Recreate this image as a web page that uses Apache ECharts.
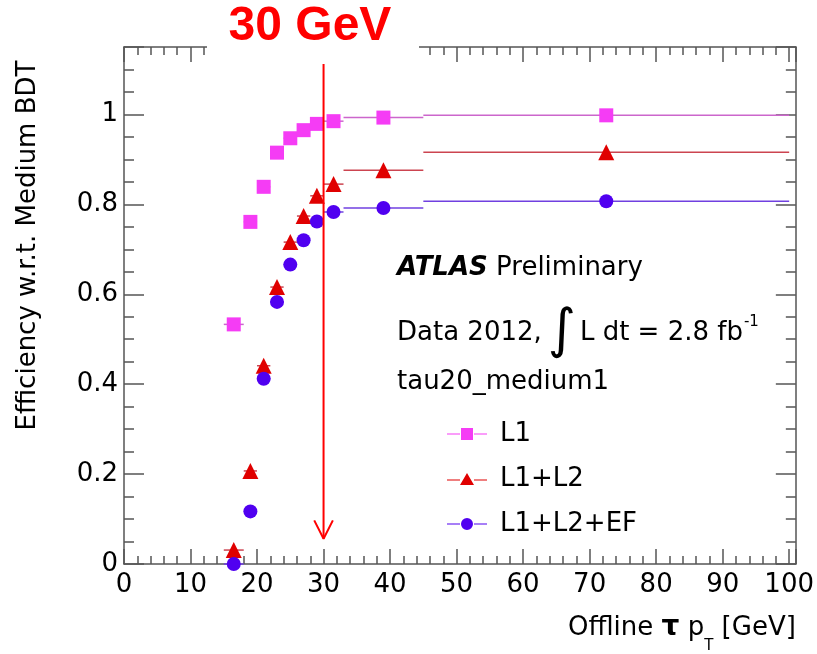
<!DOCTYPE html>
<html>
<head>
<meta charset="utf-8">
<script src="https://cdn.jsdelivr.net/npm/echarts@6/dist/echarts.min.js"></script>
<style>
  html, body { margin: 0; padding: 0; background: #fff; }
  #main { width: 817px; height: 654px; }
</style>
</head>
<body>
<div id="main"></div>
<script>
// offline tau pT bins [GeV]
var binLo = [15, 18, 20, 22, 24, 26, 28, 30, 33, 45];
var binHi = [18, 20, 22, 24, 26, 28, 30, 33, 45, 100];
var binMid = [16.5, 19, 21, 23, 25, 27, 29, 31.5, 39, 72.5];

// efficiency w.r.t. medium BDT
var effL1 = [0.533, 0.761, 0.839, 0.915, 0.947, 0.965, 0.979, 0.985, 0.993, 0.998];
var effL1L2 = [0.031, 0.207, 0.441, 0.616, 0.716, 0.774, 0.819, 0.845, 0.876, 0.916];
var effEF = [0.0, 0.117, 0.412, 0.583, 0.666, 0.720, 0.762, 0.783, 0.792, 0.807];

// 30 GeV arrow
var arrowLine = [[30, 1.113], [30, 0.056]];
var arrowHead = [[28.6, 0.097], [30, 0.056], [31.4, 0.097]];

var font = "DejaVu Sans";
var axisColor = "#555";

var myChart = echarts.init(document.getElementById("main"));

function errBars(vals, color) {
  return {
    type: "custom",
    silent: true,
    z: 2,
    data: binLo.map(function (lo, i) { return [lo, binHi[i], vals[i]]; }),
    encode: { x: [0, 1], y: 2 },
    renderItem: function (params, api) {
      var p1 = api.coord([api.value(0), api.value(2)]);
      var p2 = api.coord([api.value(1), api.value(2)]);
      return {
        type: "line",
        shape: { x1: p1[0], y1: p1[1], x2: p2[0], y2: p2[1] },
        style: { stroke: color, lineWidth: 1.5 }
      };
    }
  };
}

function markers(name, vals, symbol, size, color) {
  return {
    name: name,
    type: "scatter",
    z: 3,
    symbol: symbol,
    symbolSize: size,
    itemStyle: { color: color, opacity: 1 },
    data: binMid.map(function (x, i) { return [x, vals[i]]; })
  };
}

// x axes: bottom/top, major (10) and minor (2) ticks
function xAx(pos, interval, len, labels, line) {
  return {
    type: "value", position: pos, min: 0, max: 101, interval: interval,
    axisLine: { show: line, onZero: false, lineStyle: { color: axisColor, width: 1.5 } },
    axisTick: { show: true, inside: true, length: len, lineStyle: { color: axisColor, width: 1.5 } },
    axisLabel: {
      show: labels, margin: 8, color: "#000", fontFamily: font, fontSize: 26,
      formatter: function (v) { return v % 10 === 0 ? String(v) : ""; }
    },
    splitLine: { show: false }
  };
}
function yAx(pos, interval, len, labels, line) {
  return {
    type: "value", position: pos, min: 0, max: 1.15, interval: interval,
    axisLine: { show: line, onZero: false, lineStyle: { color: axisColor, width: 1.5 } },
    axisTick: { show: true, inside: true, length: len, lineStyle: { color: axisColor, width: 1.5 } },
    axisLabel: {
      show: labels, margin: 6, color: "#000", fontFamily: font, fontSize: 26,
      formatter: function (v) { return v > 1.05 ? "" : String(Math.round(v * 10) / 10); }
    },
    splitLine: { show: false }
  };
}

var xAxes = [xAx("bottom", 10, 15, true, true), xAx("bottom", 2, 8, false, false),
             xAx("top", 10, 15, false, true), xAx("top", 2, 8, false, false)];
xAxes[0].name = "Offline {tau|τ} p{sub|T} [GeV]";
xAxes[0].nameLocation = "end";
xAxes[0].nameGap = 0;
xAxes[0].nameTextStyle = {
  fontFamily: font, fontSize: 26, color: "#000", align: "right", verticalAlign: "top",
  padding: [50, 0, 0, 0],
  rich: {
    tau: { fontFamily: font, fontSize: 28, fontWeight: "bold", color: "#000" },
    sub: { fontFamily: font, fontSize: 15, color: "#000", verticalAlign: "bottom", padding: [0, 0, -12, 0] }
  }
};

var yAxes = [yAx("left", 0.2, 20, true, true), yAx("left", 0.05, 10, false, false),
             yAx("right", 0.2, 20, false, true), yAx("right", 0.05, 10, false, false)];
yAxes[0].name = "Efficiency w.r.t. Medium BDT";
yAxes[0].nameLocation = "middle";
yAxes[0].nameRotate = 90;
yAxes[0].nameGap = 83;
yAxes[0].nameTextStyle = { fontFamily: font, fontSize: 26, color: "#000", padding: [0, 0, 0, 120] };

var option = {
  backgroundColor: "#fff",
  animation: false,
  grid: { left: 124, right: 20, top: 47, bottom: 87 },
  xAxis: xAxes,
  yAxis: yAxes,
  legend: {
    orient: "vertical",
    left: 442,
    top: 416,
    itemWidth: 40,
    itemHeight: 14,
    itemGap: 19,
    textStyle: { fontFamily: font, fontSize: 26, color: "#000", padding: [0, 0, 0, 8] },
    data: [
      { name: "L1", icon: "path://M0,6.4H13V7.6H0Z M27,6.4H40V7.6H27Z M14,1H26V13H14Z" },
      { name: "L1+L2", icon: "path://M0,8.4H13V9.6H0Z M27,8.4H40V9.6H27Z M13,14L20,2L27,14Z" },
      { name: "L1+L2+EF", icon: "path://M0,6.4H13V7.6H0Z M27,6.4H40V7.6H27Z M14,7A6,6 0 1,1 26,7A6,6 0 1,1 14,7Z" }
    ]
  },
  series: [
    errBars(effL1, "#cc66cc"),
    errBars(effL1L2, "#cc4450"),
    errBars(effEF, "#7040e0"),
    markers("L1", effL1, "rect", 14, "#f53cf5"),
    markers("L1+L2", effL1L2, "triangle", 16, "#e00000"),
    markers("L1+L2+EF", effEF, "circle", 14, "#5000f0"),
    {
      type: "line", silent: true, z: 4, symbol: "none", data: arrowLine,
      lineStyle: { color: "#ff0000", width: 2 }
    },
    {
      type: "line", silent: true, z: 4, symbol: "none", data: arrowHead,
      lineStyle: { color: "#ff0000", width: 2 }
    }
  ],
  graphic: [
    { type: "rect", z: 100, shape: { x: 207, y: 0, width: 212, height: 64 }, style: { fill: "#fff" } },
    {
      type: "text", z: 101, x: 310, y: 27,
      style: { text: "30 GeV", fill: "#ff0000", font: "bold 48px 'Liberation Sans'", align: "center", verticalAlign: "middle" }
    },
    {
      type: "text", z: 101, x: 397, y: 268,
      style: {
        text: "{b|ATLAS} Preliminary", fill: "#000", font: "26px 'DejaVu Sans'", verticalAlign: "middle",
        rich: { b: { fontFamily: font, fontSize: 26, fontWeight: "bold", fontStyle: "italic" } }
      }
    },
    {
      type: "text", z: 101, x: 397, y: 333,
      style: {
        text: "Data 2012,{i|∫}L dt = 2.8 fb{sup|-1}", fill: "#000", font: "26px 'DejaVu Sans'", verticalAlign: "middle",
        rich: {
          i: { fontFamily: font, fontSize: 54, padding: [0, 4, 0, 6] },
          sup: { fontFamily: font, fontSize: 15, padding: [0, 0, 22, 1] }
        }
      }
    },
    {
      type: "text", z: 101, x: 397, y: 382,
      style: { text: "tau20_medium1", fill: "#000", font: "26px 'DejaVu Sans'", verticalAlign: "middle" }
    }
  ]
};

option && myChart.setOption(option);
</script>
</body>
</html>
